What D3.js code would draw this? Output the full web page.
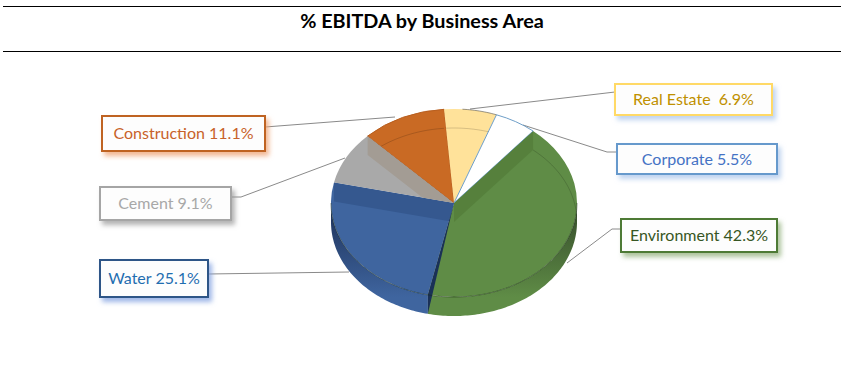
<!DOCTYPE html>
<html><head><meta charset="utf-8">
<script src="https://cdn.jsdelivr.net/npm/d3@7"></script>
<style>html,body{margin:0;padding:0;background:#fff}svg{display:block}text{font-family:Lato,"Open Sans",sans-serif}</style>
</head><body><div id="c"></div>
<script>
const titleText = "% EBITDA by Business Area";
const categories = ["Environment","Water","Cement","Construction","Real Estate","Corporate"];
const values = [42.3,25.1,9.1,11.1,6.9,5.5];
const labels = ["Environment 42.3%","Water 25.1%","Cement 9.1%","Construction 11.1%","Real Estate  6.9%","Corporate 5.5%"];

// styling, by category order
const faceColors = ["#5F8C46","#3F659F","#A9A9A9","#C96A24","#FFE29A","#FFFFFF"];
const wallTop    = ["#33492a","#1c2f55","#888888","#994444","#ccccaa","#ffffff"];
const borderCols = ["#4E7A36","#2F5487","#A5A5A5","#BF6420","#FFD966","#6699CC"];
const textCols   = ["#375623","#1F6DB0","#A8A8A8","#C8622A","#BF9000","#4472C4"];
const shadowCols = ["#8fae78","#7f9fe0","#999999","#eea070","#a9c4ea","#a9c4ea"];
// label box layout [x,y,w,h]
const boxes = [[621,219,156,33],[100,260,108,37],[100,187,131,33],[102,116,163,35],[615,84,157,31],[617,144,160,30]];
// leader polylines
const leaders = [
 [[621,229],[612,229],[567,263]],
 [[208,274],[349,272]],
 [[231,197],[241,197],[345,158]],
 [[265,127],[395,117]],
 [[615,92],[470,109]],
 [[617,152],[607,152],[523,125]]
];

const W=848,H=372,cx=454,cy=203,rx=123,ry=94,depth=19;
const svg=d3.select("#c").append("svg").attr("width",W).attr("height",H);
const defs=svg.append("defs");

svg.append("rect").attr("width",W).attr("height",H).attr("fill","#fff");
[6,51].forEach(y=>svg.append("line").attr("x1",3).attr("x2",841).attr("y1",y+.5).attr("y2",y+.5).attr("stroke","#000"));
svg.append("text").attr("x",422).attr("y",28).attr("text-anchor","middle")
  .attr("font-size",19.8).attr("font-weight",700).attr("fill","#000").text(titleText);

const pieData=d3.pie().sort(null).startAngle(40*Math.PI/180).endAngle(400*Math.PI/180)(values);
const px=t=>cx+rx*Math.sin(t), py=(t,off=0)=>cy+off-ry*Math.cos(t);
const arcGen=d3.arc().innerRadius(0).outerRadius(rx);
const faceTf=`translate(${cx},${cy}) scale(1,${ry/rx})`;

// leader lines behind pie
const lineGen=d3.line();
svg.append("g").selectAll("path").data(leaders).join("path")
  .attr("d",lineGen).attr("fill","none").attr("stroke","#8a8a8a").attr("stroke-width",1);

// clip paths for each slice's top face
pieData.forEach((d,i)=>{
  defs.append("clipPath").attr("id","clip"+i).append("path").attr("d",arcGen(d)).attr("transform",faceTf);
  const g=defs.append("linearGradient").attr("id","wall"+i).attr("gradientUnits","userSpaceOnUse")
    .attr("x1",0).attr("x2",0).attr("y1",cy).attr("y2",cy+ry);
  g.append("stop").attr("offset","0%").attr("stop-color",wallTop[i]);
  g.append("stop").attr("offset","100%").attr("stop-color",faceColors[i]);
});
shadowCols.forEach((c,i)=>{
  const f=defs.append("filter").attr("id","sh"+i).attr("x","-15%").attr("y","-30%").attr("width","130%").attr("height","170%");
  f.append("feDropShadow").attr("dx",3).attr("dy",4).attr("stdDeviation",2.6).attr("flood-color",c).attr("flood-opacity",.75);
});

const pie=svg.append("g");
// outer walls (front half only)
const thetas=(a,b)=>{const r=d3.range(a,b,0.02);r.push(b);return r;};
const wallArea=d3.area().x(px).y0(t=>py(t)).y1(t=>py(t,depth));
pieData.forEach((d,i)=>{
  const a=Math.max(d.startAngle,Math.PI/2), b=Math.min(d.endAngle,3*Math.PI/2);
  if(b>a) pie.append("path").attr("d",wallArea(thetas(a,b))).attr("fill",`url(#wall${i})`);
});
// top faces
pie.selectAll("path.face").data(pieData).join("path").attr("class","face")
  .attr("d",arcGen).attr("transform",faceTf).attr("fill",(d,i)=>faceColors[i])
  .attr("stroke",(d,i)=>i==5?"#6F9FC8":i==3?"#B85F20":"none").attr("stroke-width",1).attr("vector-effect","non-scaling-stroke");

// inner cut bands
const bands=[{i:0,angle:d=>d.startAngle,col:"#56803C"},{i:1,angle:d=>d.endAngle,col:"#35588F"},{i:2,angle:d=>d.endAngle,col:"#A39C94"}];
bands.forEach(b=>{
  const d=pieData[b.i], t=b.angle(d);
  pie.append("path").attr("clip-path",`url(#clip${b.i})`)
    .attr("d",lineGen([[cx,cy],[px(t),py(t)],[px(t),py(t,depth)],[cx,cy+depth]])+"Z")
    .attr("fill",b.col);
});
// dark sliver between Water and Environment
{
  const t=pieData[0].endAngle;
  pie.append("path").attr("d",lineGen([[cx,cy],[px(t),py(t)],[px(t),py(t,depth)]])+"Z").attr("fill","#1A3157");
}
// faint back rim of the lower ellipse
const rimLine=d3.line().x(px).y(t=>py(t,depth));
[0,3,4].forEach(i=>{
  const d=pieData[i], a=d.startAngle, b=Math.min(d.endAngle,i==0?Math.PI/2:d.endAngle);
  pie.append("path").attr("clip-path",`url(#clip${i})`).attr("d",rimLine(thetas(a,b)))
    .attr("fill","none").attr("stroke","#000").attr("stroke-opacity",.16);
});
// front rim of the top face
const topRim=d3.line().x(px).y(t=>py(t));
pie.append("path").attr("d",topRim(thetas(Math.PI/2,3*Math.PI/2))).attr("fill","none").attr("stroke","#14260f").attr("stroke-opacity",.45);
// back dark edge over yellow
pie.append("path").attr("d",topRim(thetas(pieData[4].startAngle+.15,pieData[4].endAngle))).attr("fill","none").attr("stroke","#333").attr("stroke-opacity",.5);

// label boxes
const lab=svg.append("g").selectAll("g").data(labels).join("g");
lab.append("rect").attr("x",(d,i)=>boxes[i][0]).attr("y",(d,i)=>boxes[i][1])
  .attr("width",(d,i)=>boxes[i][2]).attr("height",(d,i)=>boxes[i][3])
  .attr("fill","#fdfdfd").attr("stroke",(d,i)=>borderCols[i]).attr("stroke-width",2)
  .attr("filter",(d,i)=>`url(#sh${i})`);
lab.append("text").attr("x",(d,i)=>boxes[i][0]+boxes[i][2]/2).attr("y",(d,i)=>boxes[i][1]+boxes[i][3]/2+5.5)
  .attr("text-anchor","middle").attr("font-size",16).attr("fill",(d,i)=>textCols[i])
  .style("white-space","pre").text(d=>d);
</script></body></html>
